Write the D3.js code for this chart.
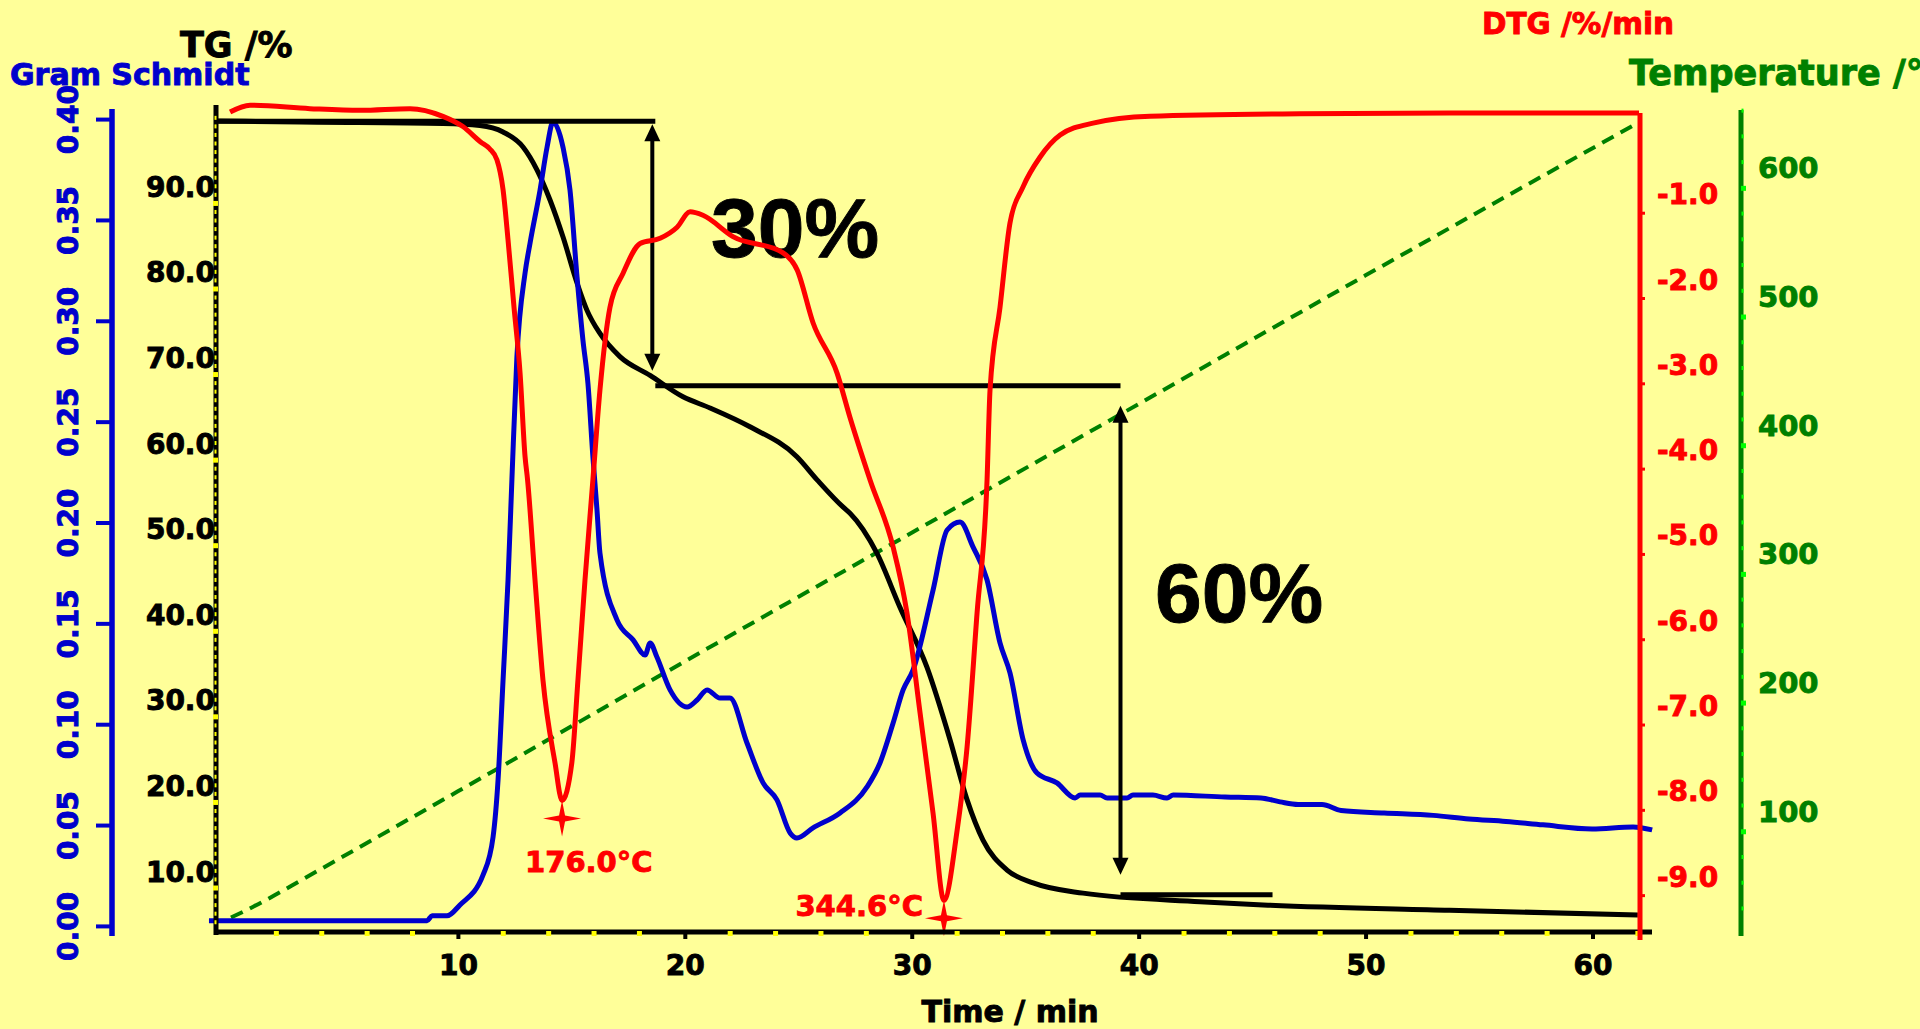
<!DOCTYPE html>
<html><head><meta charset="utf-8">
<script src="https://cdn.jsdelivr.net/npm/d3@7"></script>
<style>
html,body{margin:0;padding:0;background:#FFFF99;overflow:hidden}
svg{display:block}
text{font-family:"DejaVu Sans",sans-serif;font-weight:bold}
</style></head><body>
<svg id="chart" width="1920" height="1029"></svg>
<script>
// ---------------- data ----------------
const timeTicks = [10, 20, 30, 40, 50, 60];
const tgTicks = [10, 20, 30, 40, 50, 60, 70, 80, 90];
const gsTicks = [0, 0.05, 0.10, 0.15, 0.20, 0.25, 0.30, 0.35, 0.40];
const dtgTicks = [-1, -2, -3, -4, -5, -6, -7, -8, -9];
const tempTicks = [100, 200, 300, 400, 500, 600];

const tgTime = [-0.66, 3.04, 9.34, 10.97, 11.99, 12.87, 13.49, 14.06, 14.63, 15.25, 15.69, 16.26, 17.14, 18.47, 19.92, 21.11, 22.87, 24.94, 25.83, 26.98, 27.28, 28.47, 29.48, 30.67, 31.69, 32.44, 33.14, 34.2, 35.35, 37.55, 42.7, 45.7, 53.7, 62.0];
const tgValue = [99.64, 99.5, 99.33, 99.1, 98.35, 96.6, 93.9, 90.4, 86.1, 80.7, 77.5, 74.8, 72.1, 69.9, 67.4, 66.1, 63.9, 60.4, 57.7, 54.5, 53.8, 49.1, 42.8, 35.8, 27.3, 20.3, 15.6, 12.1, 10.6, 9.4, 8.4, 8.0, 7.4, 6.85];

const dtgTime = [-0.04, 0.84, 3.48, 5.69, 7.89, 9.34, 10.22, 11.0, 11.4, 11.72, 11.99, 12.21, 12.47, 12.74, 12.96, 13.07, 13.4, 13.75, 14.28, 14.59, 15.02, 15.29, 15.6, 15.95, 16.26, 16.7, 17.28, 18.03, 18.91, 19.66, 20.23, 20.8, 22.12, 24.33, 24.95, 25.65, 26.71, 27.28, 28.16, 29.18, 29.79, 30.37, 30.94, 31.42, 32.0, 32.44, 32.88, 33.32, 33.45, 33.89, 34.33, 34.9, 35.65, 36.54, 37.99, 40.5, 47.1, 53.7, 62.05];
const dtgValue = [0.18, 0.26, 0.22, 0.20, 0.22, 0.13, 0.01, -0.17, -0.25, -0.38, -0.73, -1.32, -2.10, -2.88, -3.86, -4.13, -5.31, -6.48, -7.45, -7.89, -7.45, -6.48, -5.31, -4.13, -3.08, -2.11, -1.71, -1.36, -1.30, -1.17, -0.99, -1.03, -1.28, -1.47, -1.67, -2.29, -2.88, -3.40, -4.13, -4.92, -5.69, -6.87, -8.04, -9.06, -8.24, -7.26, -5.69, -4.13, -3.08, -2.11, -1.12, -0.70, -0.35, -0.09, 0.05, 0.13, 0.16, 0.17, 0.17];

const gsTime = [-0.97, 8.64, 8.86, 9.52, 10.09, 11.11, 11.55, 11.77, 11.99, 12.21, 12.38, 12.6, 12.96, 13.18, 13.62, 13.93, 14.19, 14.63, 14.94, 15.25, 15.51, 15.73, 15.95, 16.13, 16.26, 17.01, 17.72, 18.25, 18.47, 18.77, 19.35, 20.1, 20.54, 20.98, 21.55, 21.99, 22.74, 23.45, 24.06, 24.64, 24.94, 25.65, 26.84, 28.03, 28.6, 29.18, 29.62, 30.06, 30.94, 31.56, 32.13, 32.7, 33.32, 33.89, 34.33, 34.91, 35.52, 36.4, 37.2, 37.42, 38.3, 38.61, 39.49, 39.75, 40.63, 41.25, 41.52, 43.81, 45.39, 46.23, 47.03, 48.08, 48.92, 50.82, 52.98, 54.56, 56.19, 57.82, 59.98, 61.79, 62.63];
const gsValue = [0.0026, 0.0026, 0.0050, 0.0050, 0.0104, 0.0253, 0.0441, 0.0724, 0.1219, 0.1715, 0.2211, 0.2820, 0.3237, 0.3385, 0.3648, 0.3861, 0.3985, 0.3861, 0.3648, 0.3217, 0.2905, 0.2691, 0.2325, 0.2062, 0.1849, 0.1517, 0.1418, 0.1343, 0.1403, 0.1333, 0.1170, 0.1085, 0.1120, 0.1170, 0.1130, 0.1130, 0.0907, 0.0709, 0.0625, 0.0461, 0.0436, 0.0486, 0.0560, 0.0689, 0.0808, 0.1006, 0.1170, 0.1269, 0.1665, 0.1963, 0.2002, 0.1879, 0.1715, 0.1403, 0.1254, 0.0922, 0.0758, 0.0709, 0.0634, 0.0649, 0.0649, 0.0634, 0.0634, 0.0649, 0.0649, 0.0634, 0.0649, 0.0639, 0.0634, 0.0615, 0.0602, 0.0602, 0.0572, 0.0560, 0.0548, 0.0530, 0.0518, 0.0501, 0.0481, 0.0491, 0.0476];

const tempTime = [0, 1, 2, 3, 10, 20, 30, 40, 50, 62.05];
const tempValue = [33, 41.5, 51, 61, 131, 232, 332, 432, 532, 651];

const stepLevels = [99.6, 68.7, 9.2];
const stepTimes = [-0.66, 18.7, 39.2, 45.9];
const stepLabels = ["30%", "60%"];

const peakTimes = [14.59, 31.42];
const peakValues = [-7.89, -9.06];
const peakLabels = ["176.0°C", "344.6°C"];

// ---------------- scales ----------------
const svg = d3.select("#chart");
const x = d3.scaleLinear().domain([-0.66, 62.05]).range([216, 1639]);
const yTG = d3.scaleLinear().domain([4.86, 101.5]).range([932, 105]);
const yDTG = d3.scaleLinear().domain([-9.526, 0.169]).range([940, 113]);
const yT = d3.scaleLinear().domain([18.6, 660.5]).range([936, 110]);
const yGS = d3.scaleLinear().domain([-0.005, 0.405]).range([936, 109]);

const BLACK = "#000", RED = "#FF0000", BLUE = "#0000CC", GREEN = "#008000", LGREEN = "#00FF00", YEL = "#FFFF00";
const xTG = 216, xGS = 112, xDTG = 1640, xTemp = 1741, yBase = 932;
const fmt1 = d => d.toFixed(1);

svg.append("rect").attr("width", 1920).attr("height", 1029).attr("fill", "#FFFF99");

function pts(t, v) { return t.map((d, i) => [d, v[i]]); }
function boldText(sel, color) {
  return sel.attr("fill", color).attr("stroke", color).attr("stroke-width", 0.9).attr("paint-order", "stroke");
}

// ---------------- curves ----------------
const gCurves = svg.append("g");
gCurves.append("path").datum(pts(tempTime, tempValue))
  .attr("d", d3.line().x(d => x(d[0])).y(d => yT(d[1])).curve(d3.curveMonotoneX))
  .attr("fill", "none").attr("stroke", GREEN).attr("stroke-width", 4).attr("stroke-dasharray", "13 8");

gCurves.append("path").datum(pts(tgTime, tgValue))
  .attr("d", d3.line().x(d => x(d[0])).y(d => yTG(d[1])).curve(d3.curveMonotoneX))
  .attr("fill", "none").attr("stroke", BLACK).attr("stroke-width", 5);

gCurves.append("path").datum(pts(gsTime, gsValue))
  .attr("d", d3.line().x(d => x(d[0])).y(d => yGS(d[1])).curve(d3.curveMonotoneX))
  .attr("fill", "none").attr("stroke", BLUE).attr("stroke-width", 5).attr("stroke-linejoin", "round");

// ---------------- step annotations ----------------
const gAnn = svg.append("g");
for (let i = 0; i < stepLevels.length; i++) {
  gAnn.append("line").attr("x1", x(stepTimes[i])).attr("x2", x(stepTimes[i + 1]))
    .attr("y1", yTG(stepLevels[i])).attr("y2", yTG(stepLevels[i]))
    .attr("stroke", BLACK).attr("stroke-width", 5);
}
function arrow(xp, yTop, yBot) {
  const hw = 8, hl = 17;
  gAnn.append("line").attr("x1", xp).attr("x2", xp).attr("y1", yTop + hl - 2).attr("y2", yBot - hl + 2)
    .attr("stroke", BLACK).attr("stroke-width", 4);
  gAnn.append("path").attr("d", `M${xp},${yTop}L${xp - hw},${yTop + hl}L${xp + hw},${yTop + hl}Z`).attr("fill", BLACK);
  gAnn.append("path").attr("d", `M${xp},${yBot}L${xp - hw},${yBot - hl}L${xp + hw},${yBot - hl}Z`).attr("fill", BLACK);
}
arrow(x(stepTimes[1]) - 3, yTG(stepLevels[0]) + 3, yTG(stepLevels[1]) - 15);
arrow(x(stepTimes[2]), yTG(stepLevels[1]) + 20, yTG(stepLevels[2]) - 20);

const labelPos = [[711, 257], [1155, 622]];
stepLabels.forEach((s, i) => {
  boldText(gAnn.append("text").text(s).attr("x", labelPos[i][0]).attr("y", labelPos[i][1])
    .attr("font-size", 84)
    .style("font-family", "'Liberation Sans', Arial, sans-serif").style("font-weight", "bold"), BLACK);
});

// red DTG on top
svg.append("g").append("path").datum(pts(dtgTime, dtgValue))
  .attr("d", d3.line().x(d => x(d[0])).y(d => yDTG(d[1])).curve(d3.curveMonotoneX))
  .attr("fill", "none").attr("stroke", RED).attr("stroke-width", 5).attr("stroke-linejoin", "round");

// peak markers
const star = "M0,-18L3,-3L19,0L3,3L0,18L-3,3L-19,0L-3,-3Z";
const labOff = [[-37, 54], [-21, -2]];
peakTimes.forEach((t, i) => {
  const px = x(t), py = yDTG(peakValues[i]) + 18;
  svg.append("path").attr("d", star).attr("transform", `translate(${px},${py})`).attr("fill", RED);
  boldText(svg.append("text").text(peakLabels[i]).attr("x", px + labOff[i][0]).attr("y", py + labOff[i][1])
    .attr("text-anchor", i === 0 ? "start" : "end").attr("font-size", 29), RED);
});

// ---------------- axes ----------------
const ax = svg.append("g");
// left TG axis
ax.append("line").attr("x1", xTG).attr("x2", xTG).attr("y1", 105).attr("y2", 935).attr("stroke", BLACK).attr("stroke-width", 5);
ax.append("g").selectAll("rect").data(d3.range(6, 101)).join("rect")
  .attr("x", xTG - 1.5).attr("y", d => yTG(d) - 2).attr("width", 2).attr("height", 4).attr("fill", YEL);
ax.append("g").selectAll("rect").data(tgTicks).join("rect")
  .attr("x", xTG - 3).attr("y", d => yTG(d) - 2.5).attr("width", 5).attr("height", 5).attr("fill", YEL);
const gTG = ax.append("g").attr("transform", `translate(${xTG},0)`)
  .call(d3.axisLeft(yTG).tickValues(tgTicks).tickSize(0).tickFormat(fmt1));
gTG.select(".domain").remove();
boldText(gTG.selectAll("text").attr("x", -1).attr("dy", 0).attr("y", -7)
  .attr("font-size", 28).attr("font-family", "DejaVu Sans").attr("font-weight", "bold"), BLACK);

// bottom time axis
ax.append("line").attr("x1", xTG - 2).attr("x2", 1652).attr("y1", yBase).attr("y2", yBase).attr("stroke", BLACK).attr("stroke-width", 5);
ax.append("g").selectAll("rect").data(d3.range(2, 63, 2).filter(d => d % 10 !== 0)).join("rect")
  .attr("x", d => x(d) - 2.5).attr("y", yBase - 1).attr("width", 5).attr("height", 5).attr("fill", YEL);
const gX = ax.append("g").attr("transform", `translate(0,${yBase})`)
  .call(d3.axisBottom(x).tickValues(timeTicks).tickSize(7).tickFormat(d3.format("d")));
gX.select(".domain").remove();
gX.selectAll("line").attr("stroke", BLACK).attr("stroke-width", 4);
boldText(gX.selectAll("text").attr("y", 43).attr("dy", 0)
  .attr("font-size", 28).attr("font-family", "DejaVu Sans").attr("font-weight", "bold"), BLACK);
boldText(ax.append("text").text("Time / min").attr("x", 1010).attr("y", 1022).attr("text-anchor", "middle")
  .attr("font-size", 30), BLACK);

// Gram Schmidt axis
ax.append("line").attr("x1", xGS).attr("x2", xGS).attr("y1", 109).attr("y2", 936).attr("stroke", BLUE).attr("stroke-width", 5.5);
const gGS = ax.append("g").attr("transform", `translate(${xGS},0)`)
  .call(d3.axisLeft(yGS).tickValues(gsTicks).tickSize(16).tickFormat(d3.format(".2f")));
gGS.select(".domain").remove();
gGS.selectAll("line").attr("stroke", BLUE).attr("stroke-width", 4);
boldText(gGS.selectAll("text").attr("x", 0).attr("y", 0).attr("dy", 0)
  .attr("transform", "translate(-34,0) rotate(-90)").attr("text-anchor", "middle")
  .attr("font-size", 28).attr("font-family", "DejaVu Sans").attr("font-weight", "bold"), BLUE);

// DTG axis
ax.append("line").attr("x1", xDTG).attr("x2", xDTG).attr("y1", 113).attr("y2", 940).attr("stroke", RED).attr("stroke-width", 5);
const gD = ax.append("g").attr("transform", `translate(${xDTG},0)`)
  .call(d3.axisRight(yDTG).tickValues(dtgTicks).tickSize(5).tickFormat(fmt1));
gD.select(".domain").remove();
gD.selectAll("line").attr("stroke", RED).attr("stroke-width", 3);
boldText(gD.selectAll("text").attr("x", 17).attr("dy", 0).attr("y", -9)
  .attr("font-size", 28).attr("font-family", "DejaVu Sans").attr("font-weight", "bold"), RED);

// Temperature axis
ax.append("line").attr("x1", xTemp).attr("x2", xTemp).attr("y1", 110).attr("y2", 936).attr("stroke", GREEN).attr("stroke-width", 5);
ax.append("g").selectAll("rect").data(d3.range(40, 661, 20).filter(d => d % 100 !== 0)).join("rect")
  .attr("x", xTemp + 0.5).attr("y", d => yT(d) - 2).attr("width", 2).attr("height", 4).attr("fill", LGREEN);
const gT = ax.append("g").attr("transform", `translate(${xTemp},0)`)
  .call(d3.axisRight(yT).tickValues(tempTicks).tickSize(0).tickFormat(d3.format("d")));
gT.select(".domain").remove();
gT.selectAll(".tick").append("rect").attr("x", 0).attr("y", -2.5).attr("width", 5).attr("height", 5).attr("fill", LGREEN);
boldText(gT.selectAll("text").attr("x", 17).attr("dy", 0).attr("y", -10)
  .attr("font-size", 29).attr("font-family", "DejaVu Sans").attr("font-weight", "bold"), GREEN);

// ---------------- titles ----------------
boldText(svg.append("text").text("TG /%").attr("x", 180).attr("y", 57).attr("font-size", 35), BLACK);
boldText(svg.append("text").text("Gram Schmidt").attr("x", 10).attr("y", 85).attr("font-size", 30), BLUE);
boldText(svg.append("text").text("DTG /%/min").attr("x", 1482).attr("y", 34).attr("font-size", 29.5), RED);
boldText(svg.append("text").text("Temperature /°C").attr("x", 1629).attr("y", 85).attr("font-size", 35), GREEN);
</script>
</body></html>
